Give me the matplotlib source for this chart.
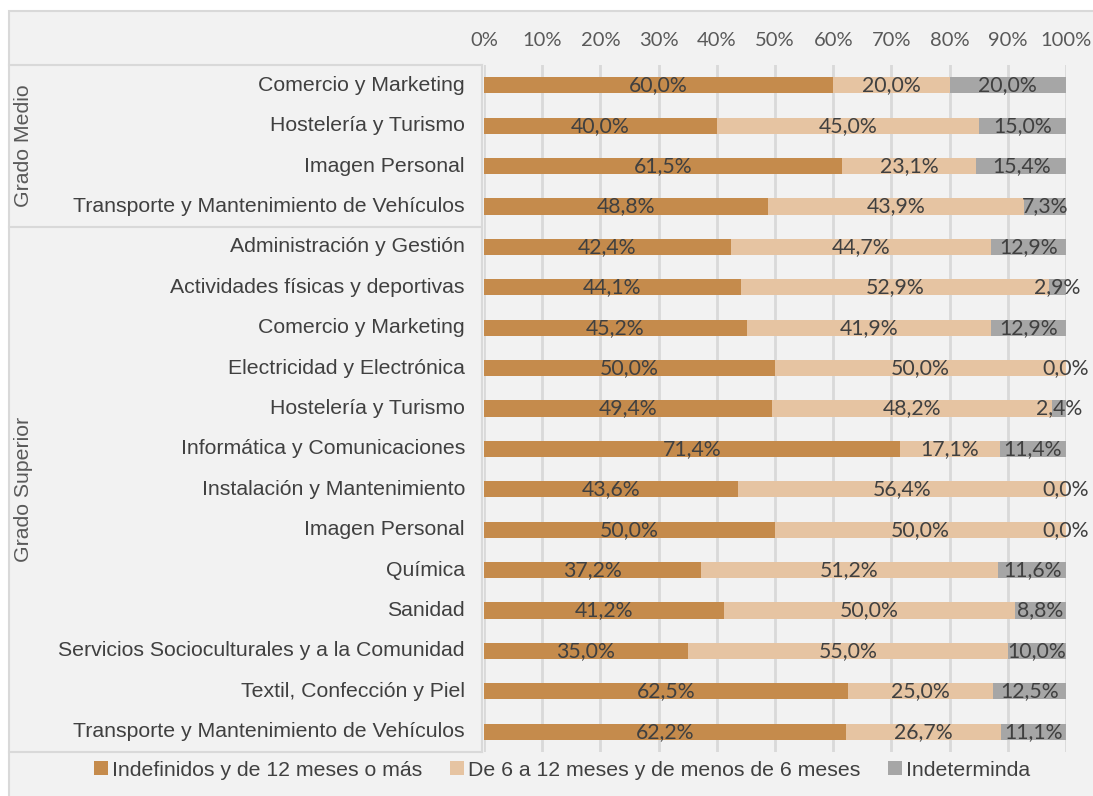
import matplotlib.pyplot as plt
from matplotlib.patches import Patch, Rectangle
from matplotlib.lines import Line2D
import numpy as np

# data (top to bottom)
groups = ['Grado Medio', 'Grado Superior']
group_sizes = [4, 13]
categories = [
    'Comercio y Marketing', 'Hostelería y Turismo', 'Imagen Personal',
    'Transporte y Mantenimiento de Vehículos',
    'Administración y Gestión', 'Actividades físicas y deportivas',
    'Comercio y Marketing', 'Electricidad y Electrónica', 'Hostelería y Turismo',
    'Informática y Comunicaciones', 'Instalación y Mantenimiento', 'Imagen Personal',
    'Química', 'Sanidad', 'Servicios Socioculturales y a la Comunidad',
    'Textil, Confección y Piel', 'Transporte y Mantenimiento de Vehículos',
]
indefinidos = [60.0, 40.0, 61.5, 48.8, 42.4, 44.1, 45.2, 50.0, 49.4, 71.4, 43.6, 50.0, 37.2, 41.2, 35.0, 62.5, 62.2]
de6a12 = [20.0, 45.0, 23.1, 43.9, 44.7, 52.9, 41.9, 50.0, 48.2, 17.1, 56.4, 50.0, 51.2, 50.0, 55.0, 25.0, 26.7]
indeterminda = [20.0, 15.0, 15.4, 7.3, 12.9, 2.9, 12.9, 0.0, 2.4, 11.4, 0.0, 0.0, 11.6, 8.8, 10.0, 12.5, 11.1]
series_names = ['Indefinidos y de 12 meses o más',
                'De 6 a 12 meses y de menos de 6 meses', 'Indeterminda']
colors = ['#c58b4c', '#e6c4a2', '#a6a6a6']

W, H = 1093, 796
fig = plt.figure(figsize=(W / 100, H / 100), dpi=100)
fig.patch.set_facecolor('white')


def fx(px):
    return px / W


def fy(py):
    return 1 - py / H


# chart area background
fig.patches.append(Rectangle((fx(9), fy(H + 5)), fx(W + 10), (H - 11 + 5) / H,
                             transform=fig.transFigure, facecolor='#f2f2f2',
                             edgecolor='#d9d9d9', linewidth=1.5, zorder=-5))

ax = fig.add_axes([fx(484), fy(752), fx(1066 - 484), (752 - 65) / H])
ax.set_facecolor('none')

vals = np.array([indefinidos, de6a12, indeterminda])
tot = vals.sum(axis=0)
frac = vals / tot * 100
y = np.arange(len(categories))
left = np.zeros(len(categories))
for i in range(3):
    ax.barh(y, frac[i], left=left, height=0.4, color=colors[i], zorder=2)
    for j in range(len(categories)):
        ax.text(left[j] + frac[i][j] / 2, y[j], f'{vals[i][j]:.1f}%'.replace('.', ','),
                ha='center', va='center', fontsize=15.3, color='#404040',
                family='Lato', zorder=3)
    left += frac[i]

ax.set_xlim(0, 100)
ax.set_ylim(len(categories) - 0.5, -0.5)
ax.xaxis.tick_top()
ax.set_xticks(np.arange(0, 101, 10))
ax.set_xticklabels([f'{v}%' for v in range(0, 101, 10)], family='Lato',
                   fontsize=14.5, color='#595959')
ax.tick_params(axis='x', length=0, pad=11.5)
ax.set_yticks([])
ax.grid(axis='x', color='#d9d9d9', linewidth=2, zorder=1)
for s in ax.spines.values():
    s.set_visible(False)

# category labels
row_h = (752 - 65) / len(categories)
for j, c in enumerate(categories):
    fig.text(fx(465), fy(65 + row_h * (j + 0.5)), c, ha='right', va='center',
             fontsize=15.3, color='#404040', family='Liberation Sans')

# group boxes
line_kw = dict(transform=fig.transFigure, color='#d9d9d9', linewidth=1.5)
start = 0
ypx = [65]
for g, n in zip(groups, group_sizes):
    y0 = 65 + row_h * start
    y1 = 65 + row_h * (start + n)
    ypx.append(y1)
    fig.text(fx(24), fy((y0 + y1) / 2), g, rotation=90, ha='center', va='center',
             fontsize=15.3, color='#595959', family='Liberation Sans')
    start += n
for yy in ypx:
    fig.lines.append(Line2D([fx(9), fx(482)], [fy(yy), fy(yy)], **line_kw))
fig.lines.append(Line2D([fx(482), fx(482)], [fy(65), fy(752)], **line_kw))

handles = [Patch(facecolor=c) for c in colors]
leg = fig.legend(handles, series_names, loc='center', bbox_to_anchor=(fx(562), fy(770)),
                 ncol=3, frameon=False, handlelength=0.65, handleheight=0.65,
                 handletextpad=0.2, columnspacing=1.3,
                 prop={'family': 'Liberation Sans', 'size': 15.3})
for t in leg.get_texts():
    t.set_color('#404040')

fig.savefig('out.png', dpi=100)
